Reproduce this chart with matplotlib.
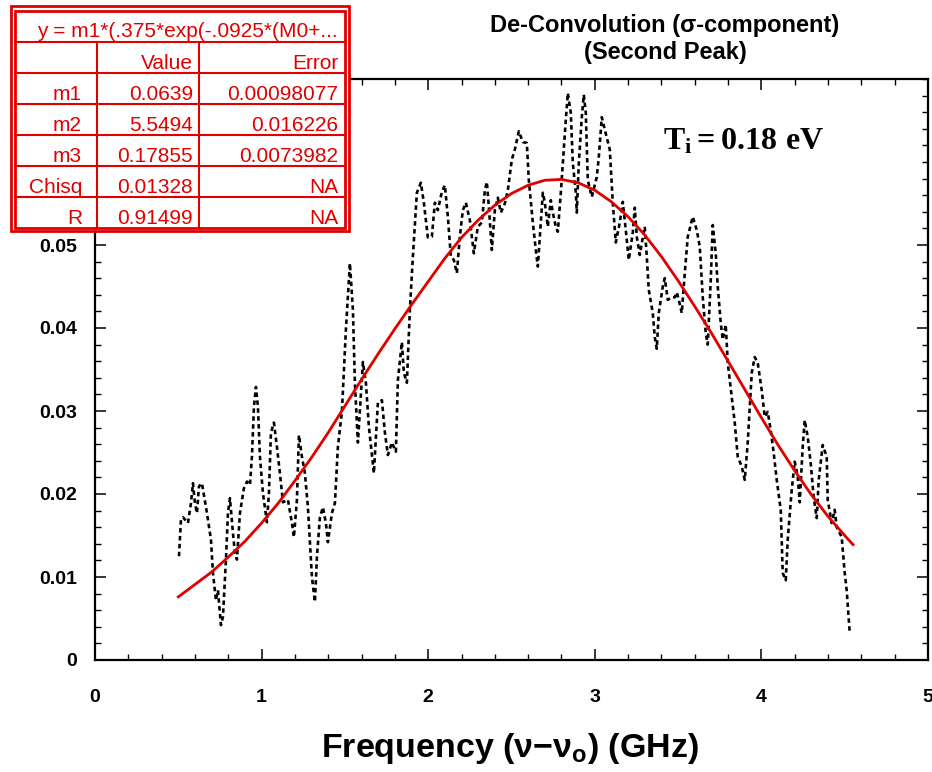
import matplotlib
matplotlib.use("Agg")
import matplotlib.pyplot as plt
from matplotlib.patches import Rectangle
from matplotlib.ticker import MultipleLocator, FuncFormatter

plt.rcParams['font.family'] = ['Liberation Sans', 'DejaVu Sans']
plt.rcParams['mathtext.fontset'] = 'custom'
plt.rcParams['mathtext.rm'] = 'Liberation Serif:bold'
plt.rcParams['mathtext.bf'] = 'Liberation Serif:bold'
plt.rcParams['mathtext.it'] = 'Liberation Serif:bold'
plt.rcParams['mathtext.sf'] = 'Liberation Sans:bold'

# ---------------- data ----------------
meas_x = [0.504, 0.516, 0.528, 0.558, 0.576, 0.588, 0.600, 0.612, 0.624, 0.642,
          0.672, 0.696, 0.708, 0.726, 0.738, 0.756, 0.768, 0.786, 0.798, 0.810,
          0.828, 0.840, 0.852, 0.870, 0.894, 0.912, 0.930, 0.942, 0.954, 0.966,
          0.978, 0.990, 1.008, 1.032, 1.044, 1.056, 1.074, 1.092, 1.110, 1.128,
          1.158, 1.182, 1.194, 1.212, 1.224, 1.242, 1.260, 1.278, 1.302, 1.320,
          1.332, 1.350, 1.368, 1.386, 1.398, 1.422, 1.440, 1.458, 1.482, 1.506,
          1.530, 1.548, 1.560, 1.578, 1.608, 1.626, 1.644, 1.674, 1.698, 1.722,
          1.740, 1.758, 1.782, 1.806, 1.818, 1.842, 1.854, 1.872, 1.890, 1.908,
          1.932, 1.956, 1.974, 1.998, 2.022, 2.040, 2.058, 2.082, 2.100, 2.118,
          2.136, 2.154, 2.172, 2.190, 2.208, 2.226, 2.250, 2.274, 2.298, 2.322,
          2.340, 2.352, 2.364, 2.382, 2.400, 2.418, 2.436, 2.460, 2.478, 2.502,
          2.520, 2.544, 2.568, 2.592, 2.604, 2.628, 2.646, 2.658, 2.670, 2.688,
          2.700, 2.718, 2.736, 2.748, 2.766, 2.778, 2.796, 2.808, 2.826, 2.838,
          2.856, 2.868, 2.886, 2.892, 2.904, 2.922, 2.934, 2.946, 2.958, 2.982,
          3.012, 3.024, 3.042, 3.060, 3.090, 3.108, 3.126, 3.150, 3.168, 3.186,
          3.204, 3.228, 3.240, 3.252, 3.270, 3.288, 3.300, 3.312, 3.324, 3.348,
          3.360, 3.372, 3.384, 3.408, 3.420, 3.438, 3.462, 3.480, 3.492, 3.504,
          3.522, 3.540, 3.558, 3.588, 3.612, 3.630, 3.648, 3.666, 3.678, 3.696,
          3.708, 3.726, 3.738, 3.756, 3.768, 3.786, 3.798, 3.822, 3.840, 3.858,
          3.882, 3.900, 3.918, 3.942, 3.960, 3.978, 4.002, 4.020, 4.038, 4.056,
          4.074, 4.092, 4.116, 4.128, 4.146, 4.158, 4.182, 4.200, 4.218, 4.230,
          4.248, 4.260, 4.278, 4.296, 4.314, 4.332, 4.344, 4.368, 4.392, 4.398,
          4.422, 4.440, 4.452, 4.482, 4.500, 4.512, 4.530]
meas_y = [0.0125, 0.0169, 0.0172, 0.0165, 0.0189, 0.0213, 0.0189, 0.0177, 0.0209, 0.0213,
          0.0177, 0.0145, 0.0105, 0.0072, 0.0084, 0.0042, 0.0052, 0.0121, 0.0177, 0.0195,
          0.0153, 0.0129, 0.0121, 0.0177, 0.0207, 0.0215, 0.0211, 0.0245, 0.0305, 0.0329,
          0.0305, 0.0245, 0.0201, 0.0166, 0.0201, 0.0274, 0.0286, 0.0257, 0.0225, 0.0190,
          0.0193, 0.0165, 0.0148, 0.0193, 0.0271, 0.0245, 0.0225, 0.0184, 0.0100, 0.0070,
          0.0124, 0.0172, 0.0184, 0.0165, 0.0142, 0.0177, 0.0189, 0.0257, 0.0299, 0.0398,
          0.0478, 0.0422, 0.0334, 0.0262, 0.0359, 0.0334, 0.0281, 0.0225, 0.0310, 0.0313,
          0.0274, 0.0247, 0.0262, 0.0251, 0.0337, 0.0383, 0.0346, 0.0334, 0.0422, 0.0486,
          0.0563, 0.0575, 0.0551, 0.0509, 0.0510, 0.0551, 0.0542, 0.0564, 0.0572, 0.0534,
          0.0486, 0.0482, 0.0466, 0.0510, 0.0542, 0.0551, 0.0530, 0.0490, 0.0522, 0.0527,
          0.0566, 0.0576, 0.0546, 0.0494, 0.0542, 0.0557, 0.0539, 0.0550, 0.0566, 0.0603,
          0.0615, 0.0637, 0.0624, 0.0623, 0.0578, 0.0527, 0.0494, 0.0474, 0.0510, 0.0563,
          0.0551, 0.0522, 0.0554, 0.0539, 0.0522, 0.0516, 0.0563, 0.0599, 0.0651, 0.0683,
          0.0659, 0.0599, 0.0563, 0.0539, 0.0599, 0.0654, 0.0681, 0.0659, 0.0578, 0.0558,
          0.0582, 0.0606, 0.0654, 0.0639, 0.0615, 0.0551, 0.0503, 0.0527, 0.0552, 0.0518,
          0.0482, 0.0515, 0.0545, 0.0510, 0.0488, 0.0509, 0.0522, 0.0486, 0.0446, 0.0418,
          0.0389, 0.0375, 0.0418, 0.0450, 0.0460, 0.0434, 0.0437, 0.0437, 0.0443, 0.0434,
          0.0418, 0.0466, 0.0510, 0.0534, 0.0518, 0.0498, 0.0437, 0.0394, 0.0380, 0.0458,
          0.0524, 0.0490, 0.0450, 0.0406, 0.0386, 0.0404, 0.0358, 0.0317, 0.0286, 0.0245,
          0.0233, 0.0217, 0.0262, 0.0346, 0.0365, 0.0358, 0.0325, 0.0293, 0.0299, 0.0277,
          0.0249, 0.0217, 0.0181, 0.0105, 0.0096, 0.0145, 0.0205, 0.0239, 0.0221, 0.0190,
          0.0257, 0.0289, 0.0269, 0.0237, 0.0196, 0.0171, 0.0217, 0.0259, 0.0245, 0.0193,
          0.0165, 0.0181, 0.0160, 0.0148, 0.0105, 0.0084, 0.0033]

fit_x = [0.50, 0.60, 0.70, 0.80, 0.90, 1.00, 1.10, 1.20, 1.30, 1.40, 1.50, 1.60,
         1.70, 1.80, 1.90, 2.00, 2.10, 2.20, 2.30, 2.40, 2.50, 2.60, 2.70, 2.80,
         2.90, 3.00, 3.10, 3.20, 3.30, 3.40, 3.50, 3.60, 3.70, 3.80, 3.90, 4.00,
         4.10, 4.20, 4.30, 4.40, 4.50, 4.55]
fit_y = [0.0076, 0.0091, 0.0106, 0.0124, 0.0143, 0.0165, 0.0189, 0.0216, 0.0244, 0.0274,
         0.0306, 0.0338, 0.0369, 0.0399, 0.0428, 0.0456, 0.0484, 0.0509, 0.0530, 0.0548,
         0.0562, 0.0572, 0.0578, 0.0579, 0.0575, 0.0566, 0.0552, 0.0534, 0.0512, 0.0486,
         0.0457, 0.0426, 0.0394, 0.0360, 0.0326, 0.0292, 0.0259, 0.0228, 0.0199, 0.0173,
         0.0150, 0.0139]

x_ticks = [0, 1, 2, 3, 4, 5]
y_ticks = [0, 0.01, 0.02, 0.03, 0.04, 0.05]

table_formula = "y = m1*(.375*exp(-.0925*(M0+..."
table_cols = ["Value", "Error"]
table_rows = ["m1", "m2", "m3", "Chisq", "R"]
table_values = ["0.0639", "5.5494", "0.17855", "0.01328", "0.91499"]
table_errors = ["0.00098077", "0.016226", "0.0073982", "NA", "NA"]

title_line1 = "De-Convolution (σ-component)"
title_line2 = "(Second Peak)"
temp_label = r"$\mathrm{T_i = 0.18\ eV}$"
x_label = r"$\mathsf{Frequency\ (\nu{-}\nu_o)\ (GHz)}$"

RED = '#e00000'
W, H = 932, 772

# ---------------- figure ----------------
fig = plt.figure(figsize=(W / 100, H / 100), dpi=100)
L, R, T, B = 95, 928, 79, 660
ax = fig.add_axes([L / W, 1 - B / H, (R - L) / W, (B - T) / H])

ax.plot(meas_x, meas_y, color='black', lw=1.9, linestyle=(0, (1.7, 1.3)), zorder=2)
ax.plot(fit_x, fit_y, color=RED, lw=2.0, zorder=3)

ax.set_xlim(0, 5)
ax.set_ylim(0, 0.07)
ax.set_xticks(x_ticks)
ax.set_yticks(y_ticks)
ax.xaxis.set_minor_locator(MultipleLocator(0.2))
ax.yaxis.set_minor_locator(MultipleLocator(0.002))
ax.yaxis.set_major_formatter(FuncFormatter(lambda v, p: '0' if abs(v) < 1e-12 else f'{v:.2f}'))
ax.xaxis.set_major_formatter(FuncFormatter(lambda v, p: f'{v:g}'))
ax.tick_params(which='both', direction='in', top=True, right=True, color='black')
ax.tick_params(which='major', length=8, width=1.1)
ax.tick_params(which='minor', length=4, width=1.0)
ax.tick_params(axis='x', which='major', pad=21, labelsize=14)
ax.tick_params(axis='y', which='major', pad=13, labelsize=14)
for lab in ax.get_xticklabels() + ax.get_yticklabels():
    lab.set_fontweight('bold')
for sp in ax.spines.values():
    sp.set_linewidth(1.6)

# overlay in pixel coordinates for text/table
ov = fig.add_axes([0, 0, 1, 1], zorder=10)
ov.set_xlim(0, W)
ov.set_ylim(H, 0)
ov.axis('off')
ov.patch.set_alpha(0)

ov.text(665, 32, title_line1, ha='center', va='baseline', fontsize=17, fontweight='bold')
ov.text(665, 59, title_line2, ha='center', va='baseline', fontsize=17, fontweight='bold')
ov.text(663, 150, temp_label, ha='left', va='baseline', fontsize=23)
ov.text(510, 757, x_label, ha='center', va='baseline', fontsize=24.5)

# table
ov.add_patch(Rectangle((11, 6), 338, 225, facecolor='white', edgecolor=RED, lw=2.0, zorder=1))
ov.add_patch(Rectangle((15, 10.5), 330, 217.5, facecolor='none', edgecolor=RED, lw=2.0, zorder=2))
row_edges = [42, 73, 104, 135, 166, 197, 228]
col_edges = [15, 97, 199, 345]
for yy in row_edges[:-1]:
    ov.plot([15, 345], [yy, yy], color=RED, lw=1.5, zorder=2)
for xx in col_edges[1:-1]:
    ov.plot([xx, xx], [42, 228], color=RED, lw=1.5, zorder=2)
fs = 15
ov.text(338, 37, table_formula, ha='right', va='baseline', color=RED, fontsize=fs, zorder=3)
ov.text(col_edges[2] - 6, row_edges[1] - 4, table_cols[0], ha='right', va='baseline', color=RED, fontsize=fs, zorder=3)
ov.text(col_edges[3] - 7, row_edges[1] - 4, table_cols[1], ha='right', va='baseline', color=RED, fontsize=fs, zorder=3)
for i, (rl, vv, ee) in enumerate(zip(table_rows, table_values, table_errors)):
    base = row_edges[i + 2] - 4
    ov.text(col_edges[1] - 15, base, rl, ha='right', va='baseline', color=RED, fontsize=fs, zorder=3)
    ov.text(col_edges[2] - 6, base, vv, ha='right', va='baseline', color=RED, fontsize=fs, zorder=3)
    ov.text(col_edges[3] - 7, base, ee, ha='right', va='baseline', color=RED, fontsize=fs, zorder=3)

fig.savefig('out.png', dpi=100)
